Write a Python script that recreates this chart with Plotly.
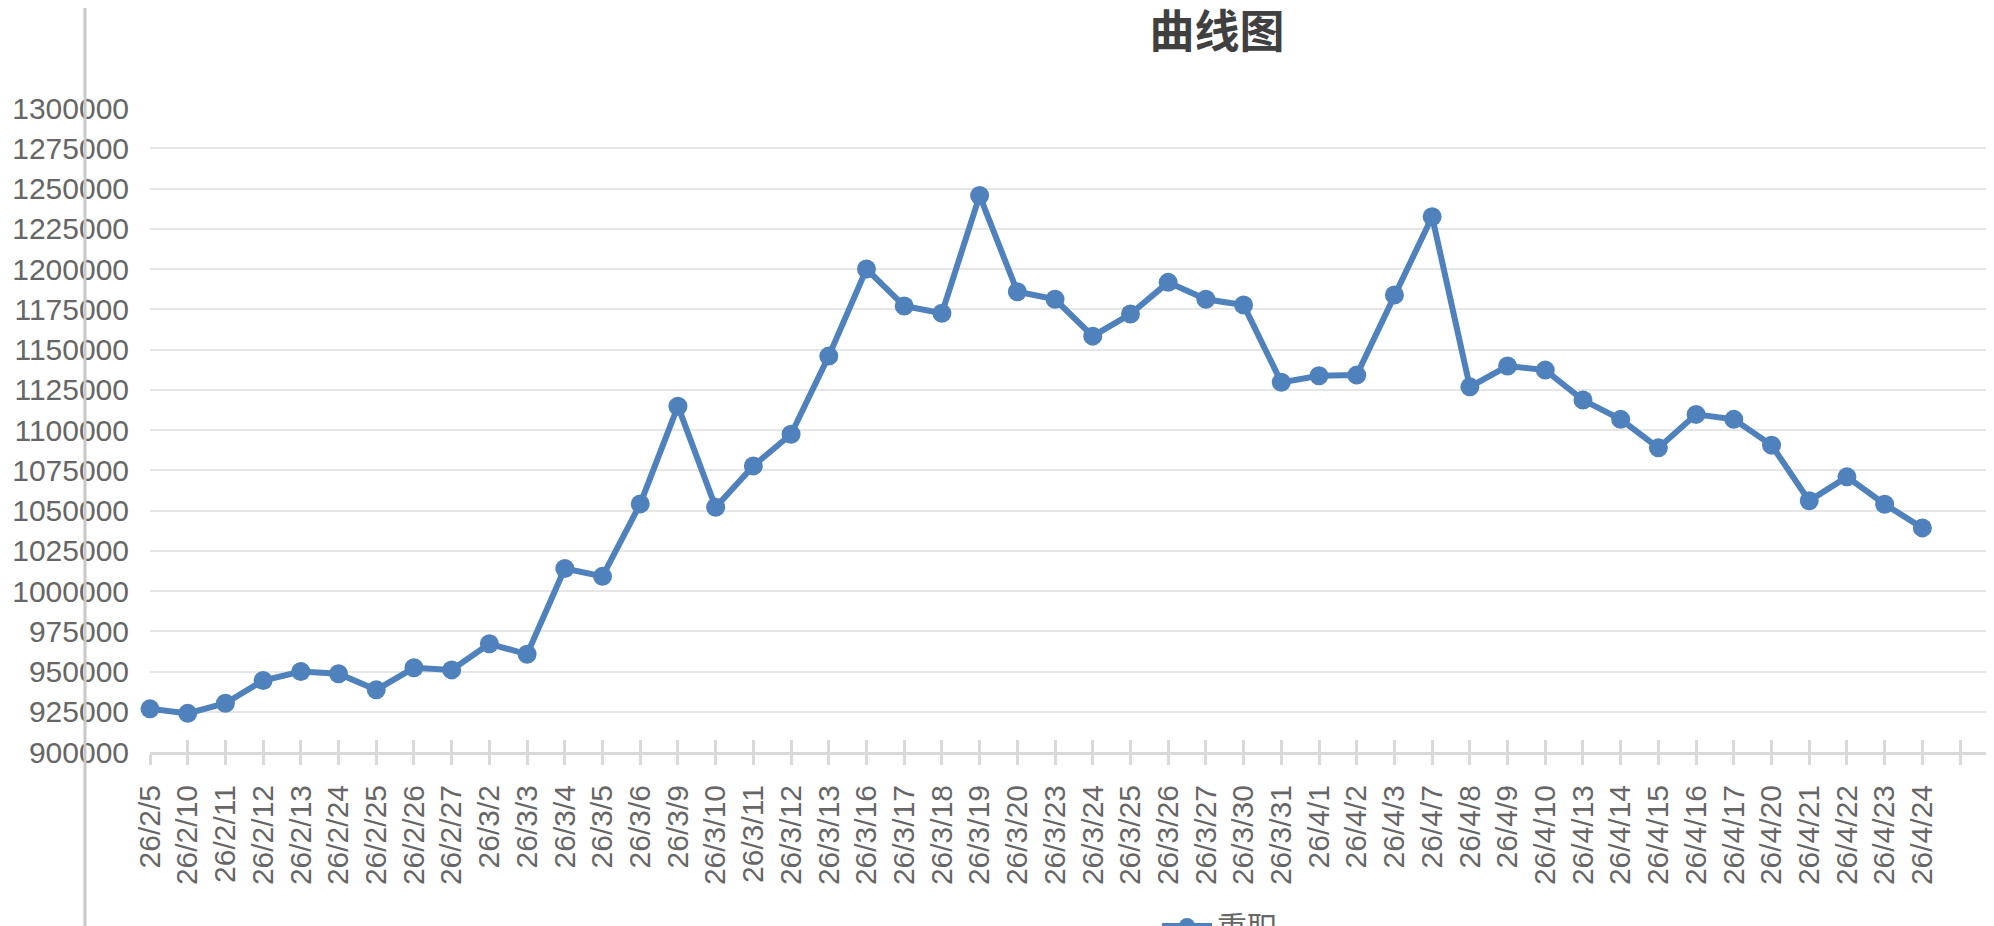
import plotly.graph_objects as go

dates = ["26/2/5", "26/2/10", "26/2/11", "26/2/12", "26/2/13", "26/2/24", "26/2/25",
         "26/2/26", "26/2/27", "26/3/2", "26/3/3", "26/3/4", "26/3/5", "26/3/6",
         "26/3/9", "26/3/10", "26/3/11", "26/3/12", "26/3/13", "26/3/16", "26/3/17",
         "26/3/18", "26/3/19", "26/3/20", "26/3/23", "26/3/24", "26/3/25", "26/3/26",
         "26/3/27", "26/3/30", "26/3/31", "26/4/1", "26/4/2", "26/4/3", "26/4/7",
         "26/4/8", "26/4/9", "26/4/10", "26/4/13", "26/4/14", "26/4/15", "26/4/16",
         "26/4/17", "26/4/20", "26/4/21", "26/4/22", "26/4/23", "26/4/24"]

values = [926800, 924000, 930300, 944400, 950000, 948600, 938600, 952300, 951000,
          967200, 960700, 1014000, 1009100, 1054100, 1114800, 1052000, 1077700,
          1097400, 1145900, 1200000, 1177000, 1172500, 1245600, 1185900, 1181200,
          1158300, 1172000, 1191700, 1181200, 1177600, 1129600, 1133700, 1134100,
          1183800, 1232500, 1126800, 1139700, 1137200, 1118600, 1106600, 1088900,
          1109700, 1106600, 1090600, 1056000, 1070900, 1053900, 1039200]

series_name = "重职"
title_text = "曲线图"

y_min, y_max, y_step = 900000, 1300000, 25000

xs = list(range(len(dates)))
tickvals = list(range(len(dates) + 1))
ticktext = dates + [""]

# page is 1994x926; the html body adds an 8px margin on the top-left
PAGE_W, PAGE_H, OFF = 1994, 926, 8
W, H = PAGE_W - OFF, PAGE_H - OFF
PLOT_L, PLOT_T, PLOT_B = 150, 108, 752   # page pixel positions of plot area
ML = PLOT_L - OFF
MT = PLOT_T - OFF
MB = PAGE_H - PLOT_B
MR = 0
plot_w = W - ML - MR
plot_h = H - MT - MB

blue = "#4f81bd"
label_color = "#666666"
font_family = "Liberation Sans, Arial, Helvetica, sans-serif"
fs = 30

fig = go.Figure()
fig.add_trace(go.Scatter(
    x=xs, y=values, name=series_name, mode="lines+markers",
    line=dict(color=blue, width=6),
    marker=dict(color=blue, size=19),
    cliponaxis=False,
))
# helper trace for overlay axis (inner tick marks)
fig.add_trace(go.Scatter(
    x=[xs[0]], y=[values[0]], xaxis="x2", mode="markers",
    marker=dict(opacity=0), showlegend=False, hoverinfo="skip",
))

xr = [0, plot_w / 37.71]

fig.update_layout(
    width=W, height=H,
    margin=dict(l=ML, r=MR, t=MT, b=MB, pad=0, autoexpand=False),
    paper_bgcolor="white", plot_bgcolor="white",
    font=dict(family=font_family, color=label_color, size=fs),
    title=dict(
        text=title_text, x=(1217 - OFF) / W, xref="container", xanchor="center",
        y=1 - (32 - OFF) / H, yref="container", yanchor="middle",
        font=dict(family="Noto Sans CJK SC", size=45, color="#404040", weight="bold"),
    ),
    xaxis=dict(
        range=xr, tickmode="array", tickvals=tickvals, ticktext=ticktext,
        tickangle=-90, ticks="outside", ticklen=10, tickwidth=3, tickcolor="#d9d9d9",
        showline=True, linecolor="#d9d9d9", linewidth=3,
        showgrid=False, zeroline=False, automargin=False,
        tickfont=dict(size=fs, color=label_color, family=font_family),
        ticklabelstandoff=8,
    ),
    xaxis2=dict(
        range=xr, overlaying="x", side="bottom", tickmode="array", tickvals=tickvals,
        ticks="inside", ticklen=12, tickwidth=3, tickcolor="#d9d9d9",
        showticklabels=False, showline=False, showgrid=False, zeroline=False,
        automargin=False,
    ),
    yaxis=dict(
        range=[y_min, y_max], tick0=y_min, dtick=y_step, tickformat="d",
        showgrid=True, gridcolor="#e6e6e6", gridwidth=2,
        showline=False, zeroline=False, ticks="", automargin=False,
        tickfont=dict(size=fs, color=label_color, family=font_family),
        ticklabelstandoff=20,
    ),
    showlegend=True,
    legend=dict(
        orientation="h", xref="container", x=(1157 - OFF) / W, xanchor="left",
        yref="container", y=1 - (942 - OFF) / H, yanchor="middle",
        itemwidth=50,
        font=dict(size=fs, color=label_color, family="Noto Sans CJK SC"),
        bgcolor="rgba(0,0,0,0)",
    ),
    shapes=[dict(
        type="line", xref="paper", yref="paper",
        x0=(85 - PLOT_L) / plot_w, x1=(85 - PLOT_L) / plot_w,
        y0=-0.4, y1=1.3, line=dict(color="#c8c8c8", width=3), layer="above",
    )],
)

fig.write_html("out.html")
